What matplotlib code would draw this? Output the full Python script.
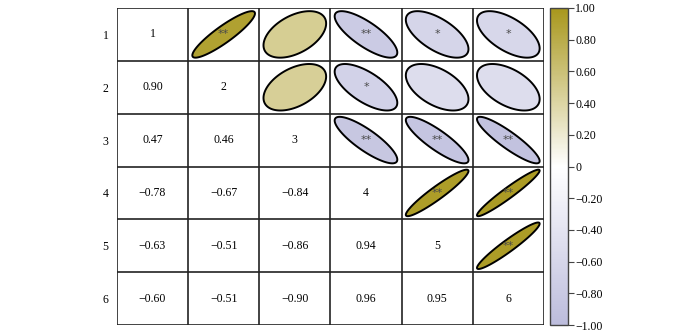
import numpy as np
import matplotlib
matplotlib.use("Agg")
import matplotlib.pyplot as plt
from matplotlib.colors import LinearSegmentedColormap, Normalize
from matplotlib.patches import Polygon
import matplotlib.colorbar as mcolorbar

plt.rcParams['font.family'] = ['Liberation Serif', 'DejaVu Serif']

# variable labels
labels = ['1', '2', '3', '4', '5', '6']

# correlation matrix
r1 = [1.00, 0.90, 0.47, -0.78, -0.63, -0.60]
r2 = [0.90, 1.00, 0.46, -0.67, -0.51, -0.51]
r3 = [0.47, 0.46, 1.00, -0.84, -0.86, -0.90]
r4 = [-0.78, -0.67, -0.84, 1.00, 0.94, 0.96]
r5 = [-0.63, -0.51, -0.86, 0.94, 1.00, 0.95]
r6 = [-0.60, -0.51, -0.90, 0.96, 0.95, 1.00]
corr = np.array([r1, r2, r3, r4, r5, r6])

# significance marks for the upper triangle
sig1 = ['', '**', '', '**', '*', '*']
sig2 = ['', '', '', '*', '', '']
sig3 = ['', '', '', '**', '**', '**']
sig4 = ['', '', '', '', '**', '**']
sig5 = ['', '', '', '', '', '**']
sig6 = ['', '', '', '', '', '']
stars = [sig1, sig2, sig3, sig4, sig5, sig6]

cbar_ticks = [-1.0, -0.8, -0.6, -0.4, -0.2, 0.0, 0.2, 0.4, 0.6, 0.8, 1.0]

cmap = LinearSegmentedColormap.from_list('corr', ['#BCBCDC', '#FFFFFF', '#A8971C'])
norm = Normalize(vmin=-1, vmax=1)

fig = plt.figure(figsize=(7, 3.33), dpi=100)
ax = fig.add_axes([0.167, 0.024, 0.610, 0.952])
n = len(labels)
ax.set_xlim(0, n)
ax.set_ylim(n, 0)

t = np.linspace(0, 2 * np.pi, 200)
for i in range(n):
    for j in range(n):
        cx, cy = j + 0.5, i + 0.5
        if i == j:
            ax.text(cx, cy, labels[i], ha='center', va='center', fontsize=8.5)
        elif i > j:
            ax.text(cx, cy, f"{corr[i, j]:.2f}".replace('-', '\u2212'),
                    ha='center', va='center', fontsize=8.5)
        else:
            r = corr[i, j]
            d = np.arccos(r)
            ex = cx + 0.44 * np.cos(t + d / 2)
            ey = cy - 0.44 * np.cos(t - d / 2)
            poly = Polygon(np.column_stack([ex, ey]), closed=True,
                           facecolor=cmap(norm(r)), edgecolor='black', lw=1.4)
            ax.add_patch(poly)
            if stars[i][j]:
                ax.text(cx, cy, stars[i][j], ha='center', va='center',
                        fontsize=8, color='#4a4a4a', family='DejaVu Sans')

for k in range(n + 1):
    ax.axhline(k, color='#222222', lw=1.2)
    ax.axvline(k, color='#222222', lw=1.2)

ax.set_xticks([])
ax.set_yticks(np.arange(n) + 0.5)
ax.set_yticklabels(labels, fontsize=8.5)
ax.tick_params(axis='y', length=0, pad=6)
for s in ax.spines.values():
    s.set_visible(False)

cax = fig.add_axes([0.786, 0.024, 0.026, 0.952])
cb = mcolorbar.ColorbarBase(cax, cmap=cmap, norm=norm, ticks=cbar_ticks)
cb.ax.set_yticklabels(['0' if v == 0 else f"{v:.2f}".replace('-', '\u2212') for v in cbar_ticks],
                      fontsize=8.5)
cb.ax.tick_params(length=4, width=0.8, color='#444444', pad=1)
cb.outline.set_edgecolor('#444444')
cb.outline.set_linewidth(1.0)

fig.savefig('out.png', dpi=100)
